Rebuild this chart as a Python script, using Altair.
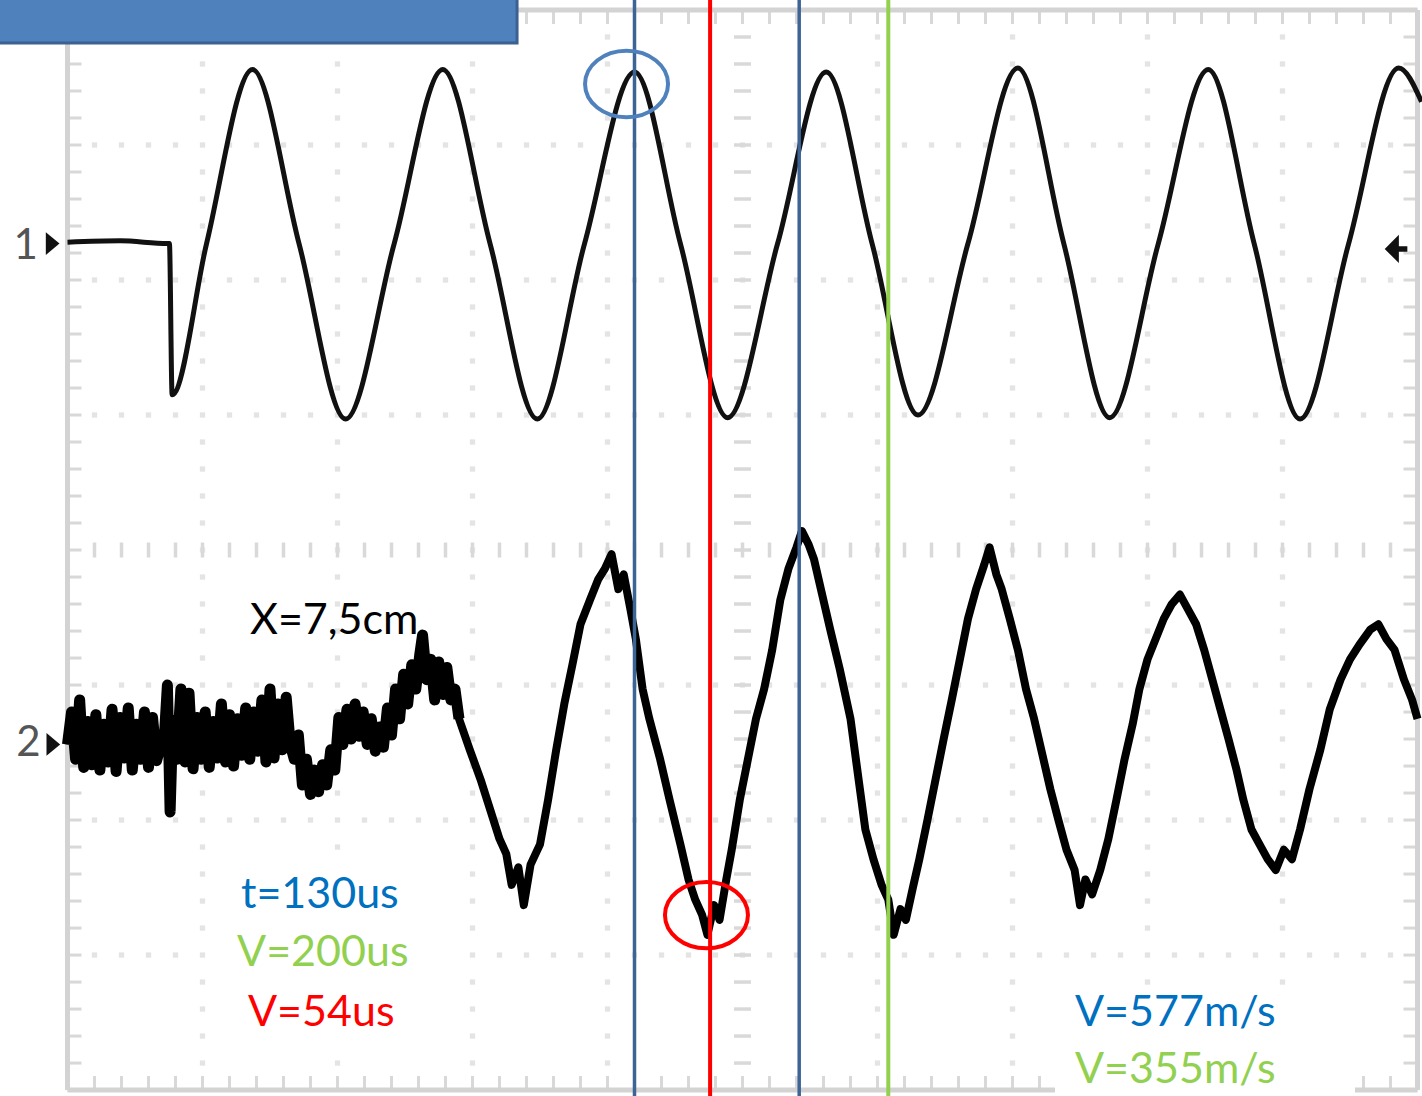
import altair as alt
import numpy as np
import pandas as pd

# ---------------------------------------------------------------------------
# Oscilloscope capture: 10 x 100 us horizontally, 8 divisions vertically
# ---------------------------------------------------------------------------
W, H = 1422, 1096
X_DOMAIN = [-50.0, 1003.33]       # us
Y_DOMAIN = [-4.044, 4.074]        # screen divisions, 0 = centre line

CH1_OFFSET = 2.27                 # ground marker of channel 1 (divisions)
CH2_OFFSET = -1.44                # ground marker of channel 2 (divisions)
NOISE_END = 295                   # us: end of the pre-arrival noise on channel 2

# Channel 1 : emitter signal (time in us, amplitude in divisions)
ch1_t = [0, 39, 74, 75.5, 77.5, 103, 137, 171.5, 206, 242, 278, 313, 348, 383,
         420, 454, 489, 526, 562, 596, 630, 667, 704, 738, 772, 808, 845, 879,
         913, 949, 986, 1003]
ch1_v = [0.01, 0.02, 0.0, 0.0, -1.12, 0.0, 1.29, 0.0, -1.30, 0.0, 1.29, 0.0,
         -1.30, 0.0, 1.27, 0.0, -1.29, 0.0, 1.27, 0.0, -1.27, 0.0, 1.30, 0.0,
         -1.29, 0.0, 1.29, 0.0, -1.30, 0.0, 1.30, 1.05]

# Channel 2 : receiver signal at X = 7,5 cm (noisy)
ch2_t = [0, 3, 6, 9, 12, 15, 18, 21, 24, 27, 30, 33, 36, 39, 42, 45, 48, 51, 54,
         57, 60, 63, 66, 72, 74, 76, 78, 81, 84, 87, 90, 93, 96, 99, 102, 105,
         108, 111, 114, 117, 120, 123, 126, 129, 132, 135, 138, 141, 144, 147,
         150, 153, 156, 159, 162, 165, 168, 171, 174, 177, 180, 183, 186, 189,
         192, 195, 198, 201, 204, 207, 210, 213, 216, 219, 222, 225, 228, 231,
         234, 237, 240, 243, 246, 249, 252, 255, 258, 261, 263, 266, 269, 272,
         275, 278, 281, 284, 287, 290, 298, 306, 313, 320, 325, 329, 334, 338,
         343, 350, 356, 362, 368, 374, 380, 387, 393, 398, 403, 408, 412, 417,
         421, 426, 431, 439, 446, 454, 460, 465, 470, 474, 479, 483, 488, 492,
         498, 504, 510, 516, 522, 528, 534, 540, 544, 549, 553, 559, 565, 572,
         580, 586, 591, 597, 603, 608, 612, 617, 621, 626, 631, 637, 643, 649,
         655, 661, 667, 673, 679, 683, 688, 692, 698, 704, 710, 716, 722, 728,
         734, 740, 746, 750, 754, 759, 765, 771, 777, 783, 789, 794, 800, 806,
         812, 818, 824, 830, 836, 842, 848, 854, 860, 866, 871, 877, 883, 889,
         895, 901, 907, 913, 920, 928, 935, 943, 950, 957, 965, 971, 977, 983,
         990, 996, 1000]
ch2_v = [0.00, 0.24, -0.11, 0.33, -0.17, 0.17, -0.15, 0.22, -0.19, 0.15, -0.13,
         0.26, -0.20, 0.20, -0.10, 0.27, -0.19, 0.15, -0.11, 0.24, -0.17, 0.20,
         -0.12, 0.10, 0.44, -0.50, 0.18, -0.11, 0.41, -0.13, 0.38, -0.18, 0.20,
         -0.11, 0.24, -0.17, 0.17, -0.10, 0.30, -0.13, 0.22, -0.16, 0.19, -0.08,
         0.27, -0.11, 0.24, -0.05, 0.33, -0.13, 0.41, -0.10, 0.30, -0.04, 0.35,
         0.00, -0.11, 0.07, -0.30, -0.11, -0.37, -0.19, -0.35, -0.15, -0.30,
         -0.04, -0.19, 0.20, 0.00, 0.26, 0.04, 0.30, 0.06, 0.24, 0.00, 0.19,
         -0.05, 0.13, -0.02, 0.27, 0.07, 0.41, 0.19, 0.52, 0.30, 0.59, 0.41,
         0.67, 0.81, 0.48, 0.63, 0.33, 0.61, 0.37, 0.57, 0.33, 0.41, 0.19,
         -0.04, -0.26, -0.48, -0.70, -0.81, -1.04, -0.91, -1.19, -0.89, -0.74,
         -0.41, -0.04, 0.30, 0.59, 0.89, 1.07, 1.22, 1.30, 1.41, 1.15, 1.26,
         1.00, 0.78, 0.41, 0.19, -0.11, -0.41, -0.74, -1.00, -1.15, -1.26,
         -1.41, -1.19, -1.30, -1.00, -0.78, -0.41, -0.11, 0.19, 0.41, 0.70,
         1.07, 1.30, 1.46, 1.58, 1.48, 1.37, 1.11, 0.85, 0.56, 0.19, -0.26,
         -0.63, -0.85, -1.04, -1.15, -1.41, -1.22, -1.30, -1.07, -0.85, -0.56,
         -0.26, 0.04, 0.33, 0.63, 0.93, 1.15, 1.33, 1.46, 1.26, 1.15, 0.93,
         0.70, 0.41, 0.19, -0.07, -0.33, -0.56, -0.78, -0.93, -1.19, -1.00,
         -1.11, -0.93, -0.70, -0.41, -0.11, 0.15, 0.41, 0.63, 0.78, 0.93, 1.04,
         1.11, 1.00, 0.89, 0.70, 0.48, 0.26, 0.04, -0.19, -0.41, -0.63, -0.74,
         -0.85, -0.93, -0.78, -0.85, -0.63, -0.33, -0.04, 0.26, 0.48, 0.63,
         0.74, 0.85, 0.89, 0.78, 0.70, 0.48, 0.33, 0.19]

# Time cursors (us)
cursor_t = [420, 542, 476, 608]
cursor_color = ["#3E6496", "#3E6496", "#FF0000", "#92D050"]
cursor_width = [3.5, 3.5, 4, 4]

# Highlighted extrema (us, screen divisions)
mark_t = [414.1, 473.3]
mark_y = [3.452, -2.704]
mark_color = ["#4F81BD", "#FF0000"]

# Annotation texts
note_text = ["X=7,5cm", "t=130us", "V=200us", "V=54us", "V=577m/s", "V=355m/s"]
note_color = ["#000000", "#0070C0", "#92D050", "#FF0000", "#0070C0", "#92D050"]
note_t = [135.2, 128.5, 125.6, 133.7, 746.3, 746.3]
note_y = [-0.526, -2.556, -2.985, -3.430, -3.430, -3.852]

# ---------------------------------------------------------------------------
xs = alt.Scale(domain=X_DOMAIN, nice=False, zero=False)
ys = alt.Scale(domain=Y_DOMAIN, nice=False, zero=False)


def X(field="t"):
    return alt.X(f"{field}:Q", scale=xs, axis=None)


def Y(field="y"):
    return alt.Y(f"{field}:Q", scale=ys, axis=None)


# ---- graticule ------------------------------------------------------------
minor_t = np.arange(0, 1001, 20)
minor_y = np.round(np.arange(-4, 4.001, 0.2), 2)
major_t = [t for t in range(100, 1000, 100) if t != 500]
major_y = [y for y in range(-3, 4) if y != 0]

dots = set()
for t in major_t:
    for y in minor_y[1:-1]:
        dots.add((t, float(y)))
for y in major_y:
    for t in minor_t[1:-1]:
        dots.add((float(t), float(y)))
dots_df = pd.DataFrame(sorted(dots), columns=["t", "y"])

grid_dots = alt.Chart(dots_df).mark_square(size=28, color="#E4E4E4", opacity=1).encode(
    x=X(), y=Y())

cx_df = pd.DataFrame({"t": 500.0, "y": minor_y[1:-1]})
cy_df = pd.DataFrame({"t": minor_t[1:-1].astype(float), "y": 0.0})
centre_v = alt.Chart(cx_df).mark_tick(orient="horizontal", size=17, thickness=3.5,
                                      color="#D9D9D9", opacity=1).encode(x=X(), y=Y())
centre_h = alt.Chart(cy_df).mark_tick(orient="vertical", size=15, thickness=3.5,
                                      color="#D9D9D9", opacity=1).encode(x=X(), y=Y())

left_df = pd.DataFrame({"t": 0.0, "y": minor_y})
right_df = pd.DataFrame({"t": 1000.0, "y": minor_y})
bottom_df = pd.DataFrame({"t": minor_t.astype(float), "y": -4.0})
top_df = pd.DataFrame({"t": minor_t.astype(float), "y": 4.0})
tick_style = dict(size=14, thickness=3, color="#D8D8D8", opacity=1)
frame_ticks = [
    alt.Chart(left_df).mark_tick(orient="horizontal", xOffset=7, **tick_style).encode(x=X(), y=Y()),
    alt.Chart(right_df).mark_tick(orient="horizontal", xOffset=-7, **tick_style).encode(x=X(), y=Y()),
    alt.Chart(bottom_df).mark_tick(orient="vertical", yOffset=-7, **tick_style).encode(x=X(), y=Y()),
    alt.Chart(top_df).mark_tick(orient="vertical", yOffset=7, **tick_style).encode(x=X(), y=Y()),
]

frame_df = pd.DataFrame({
    "t": [0, 1000, 0, 0], "t2": [0, 1000, 1000, 1000],
    "y": [-4, -4, -4, 4], "y2": [4, 4, -4, 4],
})
frame = alt.Chart(frame_df).mark_rule(color="#D3D3D3", strokeWidth=5).encode(
    x=X(), x2="t2:Q", y=Y(), y2="y2:Q")

# ---- white label backgrounds ----------------------------------------------
bg_df = pd.DataFrame({"t": [114.4, 731.5], "t2": [284.8, 953.7],
                      "y": [-2.311, -3.222], "y2": [-3.704, -4.3]})
label_bg = alt.Chart(bg_df).mark_rect(color="white").encode(
    x=X(), x2="t2:Q", y=Y(), y2="y2:Q")

# ---- traces -----------------------------------------------------------------
ch1_df = pd.DataFrame({"t": ch1_t, "v": ch1_v})
ch2_df = pd.DataFrame({"t": ch2_t, "v": ch2_v})

trace1 = alt.Chart(ch1_df).transform_calculate(y=f"datum.v + {CH1_OFFSET}").mark_line(
    color="#111111", strokeWidth=5, interpolate="monotone", strokeJoin="round"
).encode(x=X(), y=Y(), order="t:Q")

ch2_base = alt.Chart(ch2_df).transform_calculate(y=f"datum.v + {CH2_OFFSET}")
trace2 = ch2_base.mark_line(color="#000000", strokeWidth=8, strokeJoin="round").encode(
    x=X(), y=Y(), order="t:Q")
# the pre-arrival noise smears into a thick band on the screen
noise_band = ch2_base.transform_filter(f"datum.t <= {NOISE_END}").mark_line(
    color="#000000", strokeWidth=11, strokeJoin="round").encode(x=X(), y=Y(), order="t:Q")

# ---- channel markers --------------------------------------------------------
digit_df = pd.DataFrame({"label": ["1", "2"], "t": [-31.0, -29.0],
                         "y": [CH1_OFFSET - 0.02, CH2_OFFSET + 0.01]})
digits = alt.Chart(digit_df).mark_text(font="Lato", fontSize=42, color="#555555",
                                       align="center", baseline="middle").encode(
    x=X(), y=Y(), text="label:N")

ARROW_R = "M -0.6 -1 L 0.6 0 L -0.6 1 Z"
ARROW_L = "M -0.6 0 L 0.4 -1 L 0.4 -0.2 L 1 -0.2 L 1 0.2 L 0.4 0.2 L 0.4 1 Z"
arrow_r_df = pd.DataFrame({"t": [-11.0, -10.5], "y": [CH1_OFFSET, CH2_OFFSET]})
arrows_r = alt.Chart(arrow_r_df).mark_point(shape=ARROW_R, size=520, filled=True,
                                            color="#111111", opacity=1).encode(x=X(), y=Y())
arrow_l_df = pd.DataFrame({"t": [982.0], "y": [2.23]})
arrow_l = alt.Chart(arrow_l_df).mark_point(shape=ARROW_L, size=800, filled=True,
                                           color="#111111", opacity=1).encode(x=X(), y=Y())

# ---- cursors and highlights -------------------------------------------------
cur_df = pd.DataFrame({"t": cursor_t, "c": cursor_color, "w": cursor_width})
cursors = alt.Chart(cur_df).mark_rule().encode(
    x=X(), color=alt.Color("c:N", scale=None), strokeWidth=alt.StrokeWidth("w:Q", scale=None))

ELLIPSE = ("M -1 0 C -1 -0.4418 -0.5523 -0.8 0 -0.8 C 0.5523 -0.8 1 -0.4418 1 0 "
           "C 1 0.4418 0.5523 0.8 0 0.8 C -0.5523 0.8 -1 0.4418 -1 0 Z")
hl_df = pd.DataFrame({"t": mark_t, "y": mark_y, "c": mark_color})
highlights = alt.Chart(hl_df).mark_point(shape=ELLIPSE, size=6889, filled=False,
                                         strokeWidth=4, opacity=1).encode(
    x=X(), y=Y(), stroke=alt.Stroke("c:N", scale=None))

# ---- annotations -------------------------------------------------------------
note_df = pd.DataFrame({"text": note_text, "c": note_color, "t": note_t, "y": note_y})
notes = alt.Chart(note_df).mark_text(font="Lato", fontSize=43, align="left",
                                     baseline="middle").encode(
    x=X(), y=Y(), text="text:N", color=alt.Color("c:N", scale=None))

# ---- title banner (top left) ----------------------------------------------
banner_df = pd.DataFrame({"t": [-60.0], "t2": [333.0], "y": [3.756], "y2": [4.4]})
banner = alt.Chart(banner_df).mark_rect(color="#4F81BD", stroke="#3A6190",
                                        strokeWidth=3).encode(
    x=X(), x2="t2:Q", y=Y(), y2="y2:Q")

chart = alt.layer(
    grid_dots, centre_v, centre_h, *frame_ticks, frame, label_bg,
    trace1, trace2, noise_band, digits, arrows_r, arrow_l, cursors, highlights,
    notes, banner,
).properties(
    width=W, height=H, padding=0, autosize=alt.AutoSizeParams(type="none"),
    background="white",
).configure_view(stroke=None)

chart.save("out.html", embed_options={"renderer": "svg", "actions": False})
